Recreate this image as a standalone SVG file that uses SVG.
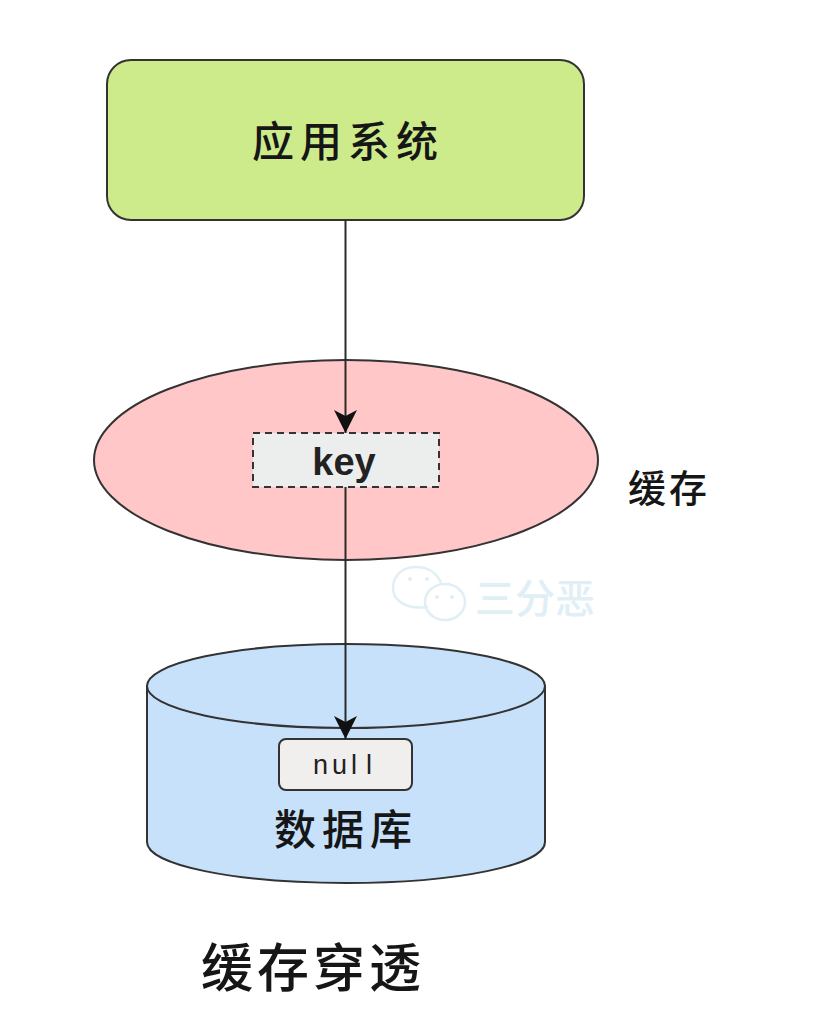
<svg xmlns="http://www.w3.org/2000/svg" width="814" height="1030" viewBox="0 0 814 1030">
<style>
.s{stroke:#333;stroke-width:2}
.cjk{font-family:"Noto Sans CJK SC","Noto Sans CJK JP",sans-serif;fill:#161616;text-anchor:middle;font-weight:500}
.l{fill:none;stroke:#2a2a2a;stroke-width:2}
.w{fill:none;stroke:#e0eff6;stroke-width:2.5}
.e{fill:#e0eff6}
</style>
<defs><marker id="a" markerWidth="24" markerHeight="24" refX="23" refY="11.5" orient="auto" markerUnits="userSpaceOnUse"><path d="M0 0L23 11.5L0 23L6 11.5Z" fill="#111"/></marker></defs>
<rect width="814" height="1030" fill="#fff"/>
<g id="app"><rect x="107" y="60" width="477" height="160" rx="24" fill="#cdeb8b" class="s"/><text x="348" y="157" class="cjk" font-size="42" letter-spacing="6">应用系统</text></g>
<g id="cache"><ellipse cx="346" cy="460" rx="252" ry="100" fill="#ffc7c7" class="s"/><text x="669" y="502" class="cjk" font-size="38" letter-spacing="3">缓存</text></g>
<g id="key"><rect x="253" y="433" width="186" height="54" fill="#eceeee" stroke="#333" stroke-width="2" stroke-dasharray="7 5"/><text x="344" y="475" font-family="Liberation Sans,sans-serif" font-weight="bold" font-size="38" text-anchor="middle" fill="#222">key</text></g>
<g id="db"><path d="M147 686V842C147 865 235 883 346 883S545 865 545 842V686Z" fill="#c7e1fb" class="s"/><ellipse cx="346" cy="686" rx="199" ry="42" fill="#c7e1fb" class="s"/><text x="346" y="845" class="cjk" font-size="42" letter-spacing="6">数据库</text></g>
<g id="null"><rect x="279" y="739" width="133" height="51" rx="7" fill="#f0efee" class="s"/><text x="313 332 351 366" y="774" font-family="Liberation Sans,sans-serif" font-size="27" fill="#222">null</text></g>
<g id="connectors"><path class="l" d="M345.5 220V433" marker-end="url(#a)"/><path class="l" d="M345.5 487V739" marker-end="url(#a)"/></g>
<text x="313" y="987" class="cjk" font-size="52" letter-spacing="4">缓存穿透</text>
<g id="watermark"><text x="535" y="613" class="cjk" font-size="40" style="fill:#e0eff6">三分恶</text><path class="w" d="M428 607C405 610 393 600 393 588C393 575 403 567 416 567C428 567 437 573 441 583"/><ellipse cx="445" cy="602" rx="20" ry="18" class="w"/><circle class="e" cx="410" cy="579" r="2"/><circle class="e" cx="427" cy="579" r="2"/><circle class="e" cx="437" cy="597" r="2"/><circle class="e" cx="452" cy="597" r="2"/></g>
</svg>
